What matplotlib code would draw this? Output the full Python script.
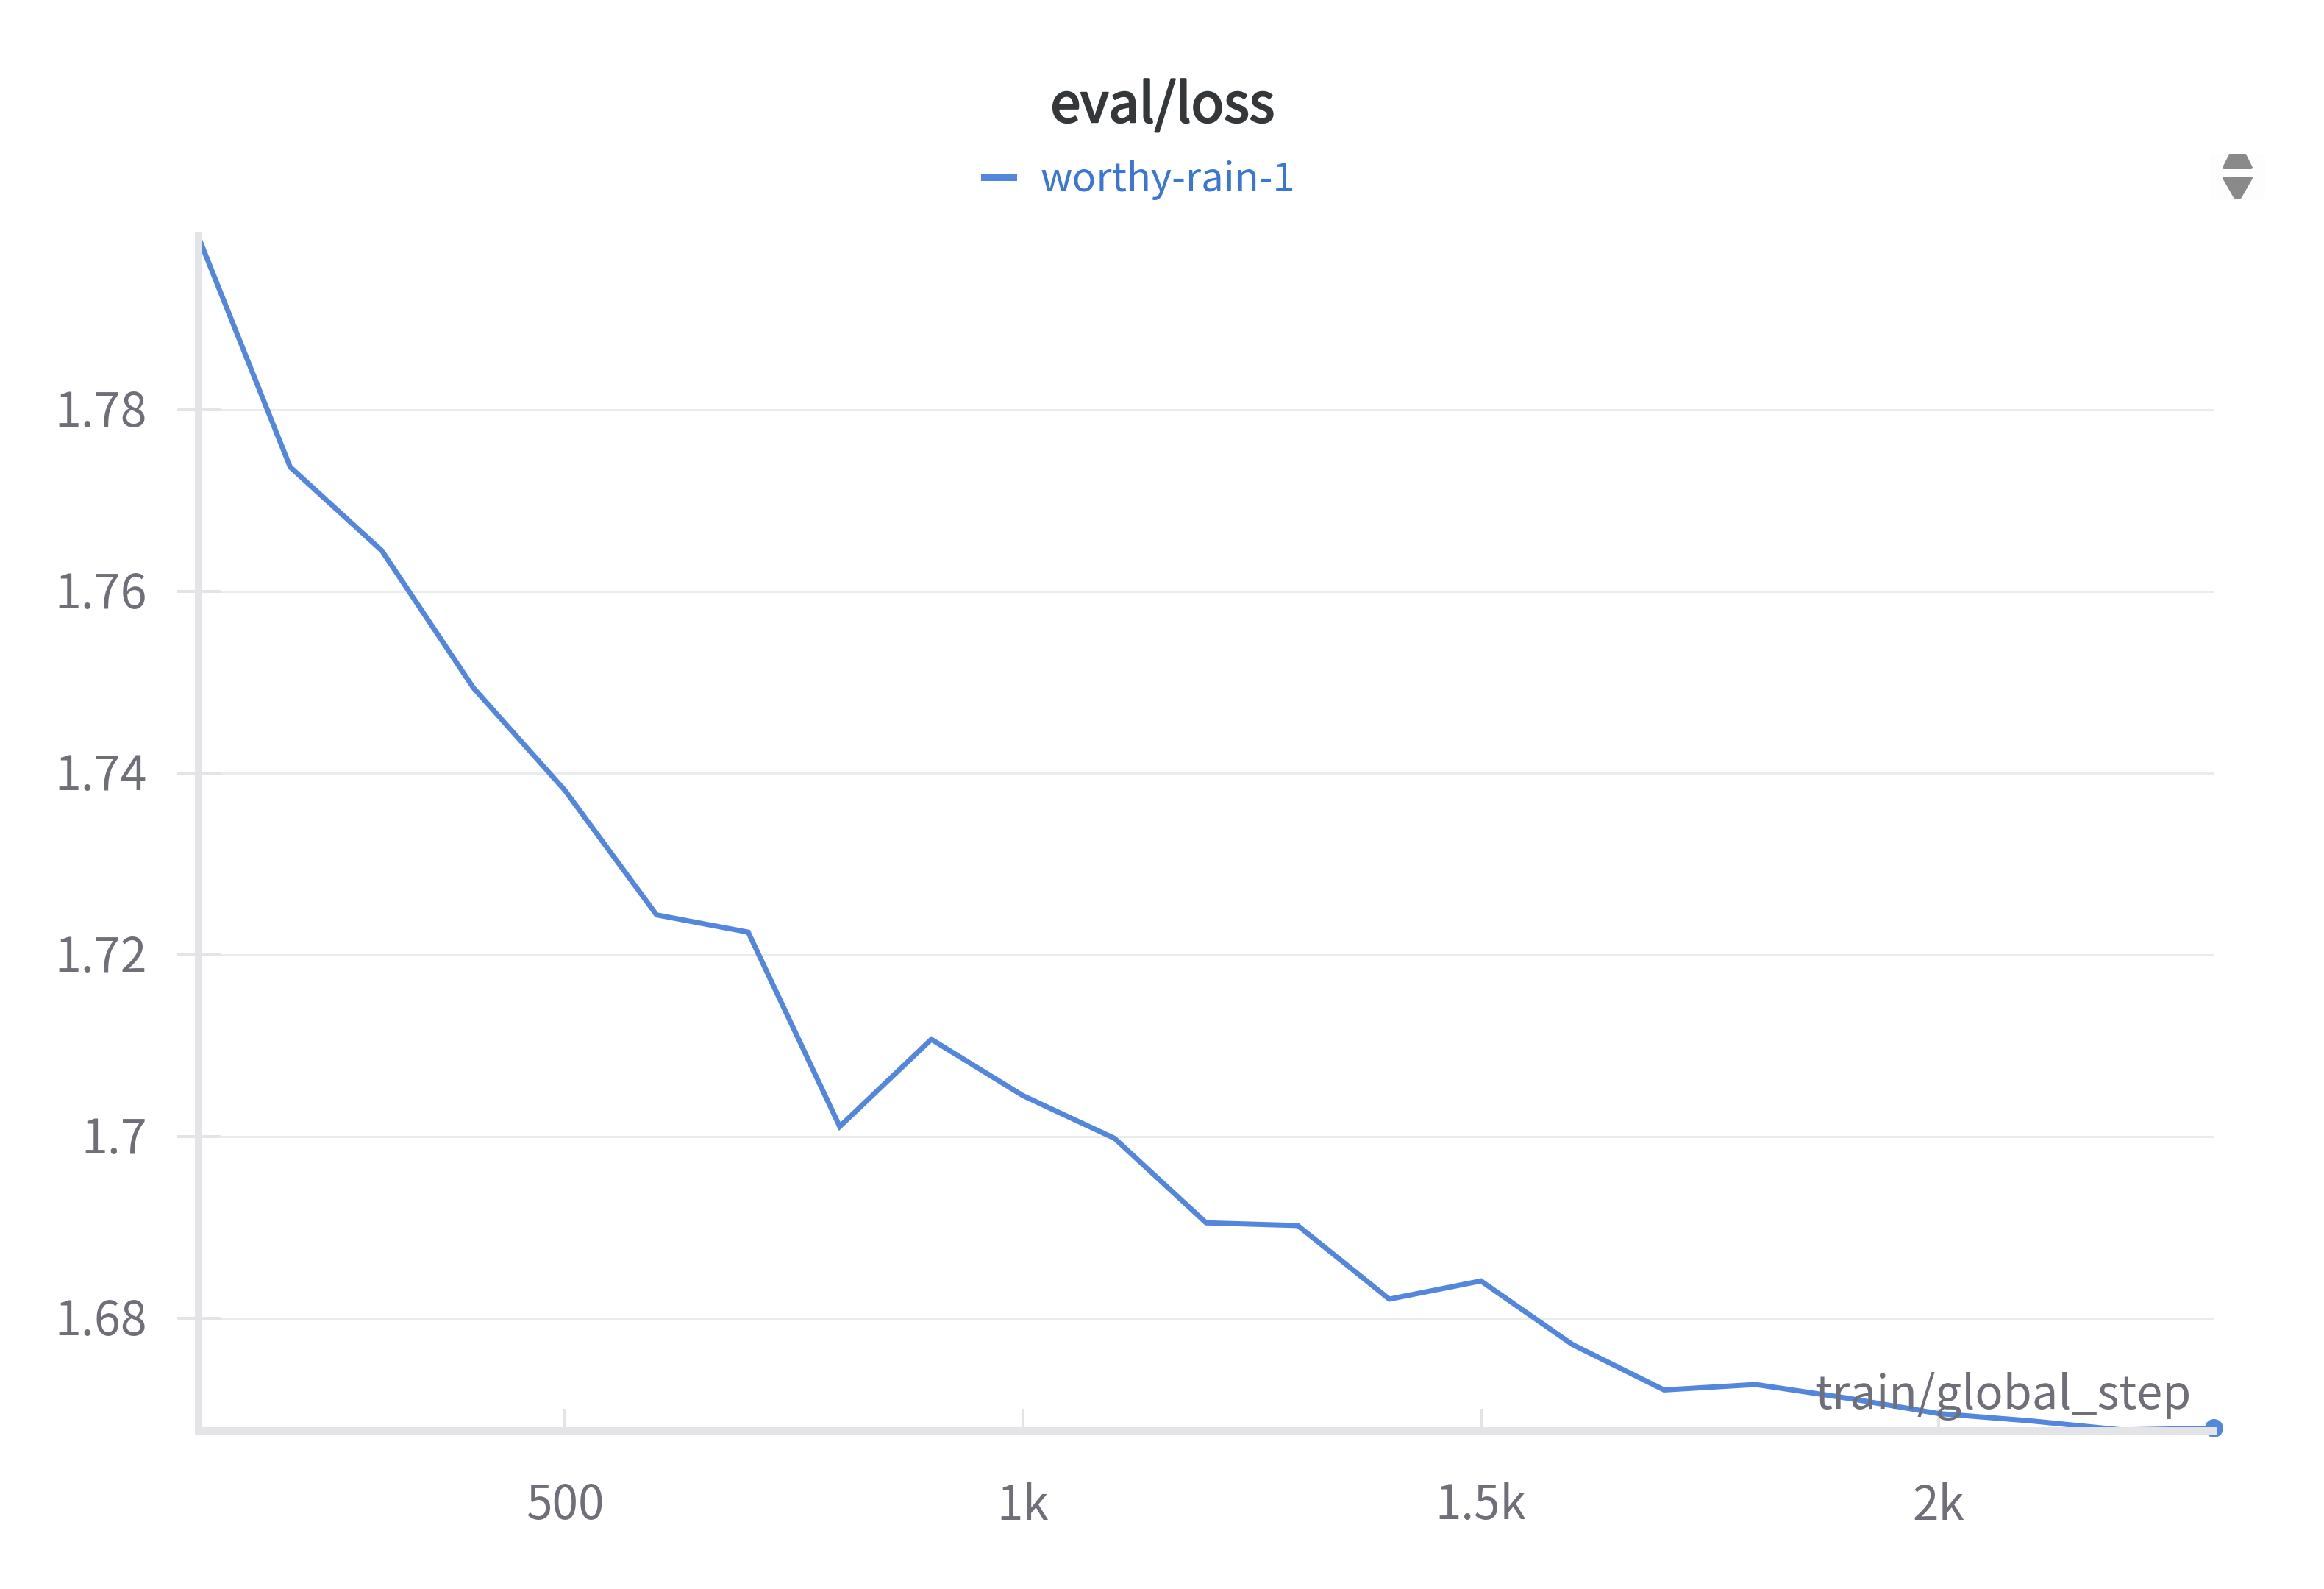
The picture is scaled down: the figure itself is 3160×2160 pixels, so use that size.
import matplotlib
matplotlib.use('Agg')
import matplotlib.pyplot as plt
import matplotlib.patheffects as pe
from matplotlib.patches import Polygon, Rectangle
from matplotlib.transforms import ScaledTranslation

plt.rcParams['font.family'] = ['Noto Sans CJK SC', 'DejaVu Sans']

W, H = 3160, 2160
DPI = 100

steps = [100, 200, 300, 400, 500, 600, 700, 800, 900, 1000, 1100, 1200,
         1300, 1400, 1500, 1600, 1700, 1800, 1900, 2000, 2100, 2200, 2300]
loss = [1.7990, 1.7737, 1.7645, 1.7494, 1.7381, 1.7244, 1.7225, 1.7011,
        1.7107, 1.7045, 1.6998, 1.6905, 1.6902, 1.6821, 1.6841, 1.6771,
        1.6721, 1.6727, 1.6712, 1.6695, 1.6687, 1.6677, 1.6679]

x_ticks = [500, 1000, 1500, 2000]
x_tick_labels = ['500', '1k', '1.5k', '2k']
y_ticks = [1.68, 1.70, 1.72, 1.74, 1.76, 1.78]
y_tick_labels = ['1.68', '1.7', '1.72', '1.74', '1.76', '1.78']

BLUE = '#5387dd'
TEXT_BLUE = '#3a75d8'
GREY = '#6f6f79'
AXIS = '#e4e4e6'
GRID = '#ebebed'


def px(n):
    # pixels to points
    return n * 72 / DPI


def fig_xy(x, y):
    return x / W, 1 - y / H


fig = plt.figure(figsize=(W / DPI, H / DPI), dpi=DPI, facecolor='white')
ax = fig.add_axes([270 / W, 1 - 1945 / H, (3010 - 270) / W, (1945 - 320) / H])

line, = ax.plot(steps, loss, color=BLUE, lw=px(7), solid_joinstyle='miter',
                label='worthy-rain-1', zorder=2)
ax.plot(steps[-1:], loss[-1:], 'o', color=BLUE, ms=px(25), mew=0,
        clip_on=False, zorder=2)

ax.set_xlim(100, 2300)
ax.set_ylim(1.6676, 1.7992)

for side in ['top', 'right']:
    ax.spines[side].set_visible(False)
for side in ['left', 'bottom']:
    ax.spines[side].set_color(AXIS)
    ax.spines[side].set_linewidth(px(10))
    ax.spines[side].set_zorder(3)

ax.set_xticks(x_ticks, x_tick_labels, fontweight='light')
ax.set_yticks(y_ticks, y_tick_labels, fontweight='light')
ax.tick_params(axis='x', direction='in', length=px(30), width=px(4), color=AXIS,
               labelsize=46, labelcolor=GREY, pad=px(69))
ax.tick_params(axis='y', direction='inout', length=px(60), width=px(4), color=AXIS,
               labelsize=46.5, labelcolor=GREY, pad=px(40))
ax.grid(axis='y', color=GRID, lw=px(3))
ax.set_axisbelow(True)

# y labels sit slightly higher than matplotlib centres them
nudge = ScaledTranslation(0, 3 / DPI, fig.dpi_scale_trans)
for lab in ax.get_yticklabels():
    lab.set_transform(lab.get_transform() + nudge)

ax.text(2980 / W, 1 - 1915 / H, 'train/global_step', transform=fig.transFigure,
        ha='right', va='baseline', fontsize=45.5, fontweight='light', color=GREY, zorder=5)

# medium weight is not installed, so thicken the regular one a bit
title = fig.text(1581 / W, 1 - 166 / H, 'eval/loss', ha='center', va='baseline',
                 fontsize=53, color='#35383b')
title.set_path_effects([pe.withStroke(linewidth=px(2.5), foreground='#35383b')])

fig.legend(handles=[line], loc='center left', bbox_to_anchor=fig_xy(1334, 244),
           frameon=False, fontsize=39, labelcolor=TEXT_BLUE, borderpad=0,
           borderaxespad=0, handlelength=0.9, handletextpad=0.59)
fig.legends[0].legend_handles[0].set_linewidth(px(10))
fig.legends[0].legend_handles[0].set_solid_capstyle('butt')

# the little sort icon at the top right
fig.add_artist(Rectangle(fig_xy(3005, 270), 75 / W, 60 / H, transform=fig.transFigure,
                         color='#fdfdfd', lw=0))
icon_top = [(3032, 212), (3053, 212), (3061, 228), (3024, 228)]
icon_bottom = [(3024, 242), (3061, 242), (3046, 268), (3039, 268)]
for shape in [icon_top, icon_bottom]:
    fig.add_artist(Polygon([fig_xy(*p) for p in shape], closed=True, transform=fig.transFigure,
                           facecolor='#8a8a8a', edgecolor='#8a8a8a', lw=px(4),
                           joinstyle='round'))

fig.savefig('out.png', dpi=DPI)
